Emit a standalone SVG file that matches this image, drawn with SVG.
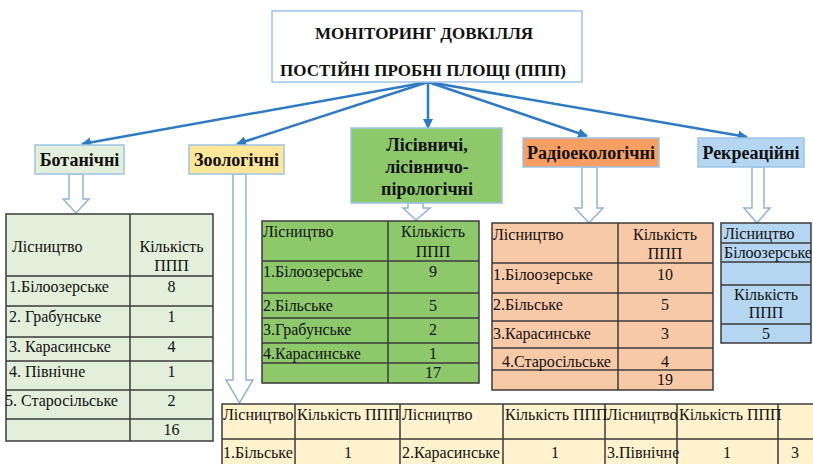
<svg xmlns="http://www.w3.org/2000/svg" width="813" height="464" viewBox="0 0 813 464" font-family="'Liberation Serif', 'Times New Roman', 'DejaVu Serif', serif">
<defs>
<marker id="ah" viewBox="0 0 10 10" refX="9" refY="5" markerWidth="4" markerHeight="4" orient="auto" markerUnits="strokeWidth">
<path d="M0,0 L10,5 L0,10 Z" fill="#2e7bc4"/>
</marker>
<style>
text{fill:#111}
.ttl{font-size:17px;font-weight:bold;text-anchor:middle}
.cat{font-size:18px;font-weight:bold;text-anchor:middle}
.t{font-size:16px}
.c{font-size:16px;text-anchor:middle}
.box{stroke:#9dc3e6;stroke-width:1.5}
.con{stroke:#2e7bc4;stroke-width:2.5;fill:none;marker-end:url(#ah)}
.hol{fill:#fff;stroke:#8fb4dc;stroke-width:1.5;stroke-linejoin:miter}
.grid{stroke:#3b3b3b;stroke-width:1.5;fill:none}
</style>
</defs>
<rect width="813" height="464" fill="#fff"/>

<g id="connectors">
<line class="con" x1="428" y1="82" x2="82" y2="144"/>
<line class="con" x1="428" y1="82" x2="237" y2="144"/>
<line class="con" x1="428" y1="82" x2="428" y2="128"/>
<line class="con" x1="428" y1="82" x2="587" y2="136"/>
<line class="con" x1="428" y1="82" x2="747" y2="137"/>
<path class="hol" d="M69,174 H83 V199 H89 L76,213 L63,199 H69 Z"/>
<path class="hol" d="M233,174 H246 V380 H253 L239.5,403 L226,380 H233 Z"/>
<path class="hol" d="M408,203 H423 V208 H430 L416,220 L403,208 H408 Z"/>
<path class="hol" d="M582,167 H597 V208 H603 L589,223 L575,208 H582 Z"/>
<path class="hol" d="M752,167 H764 V208 H770 L757,223 L744,208 H752 Z"/>
</g>

<g id="title">
<rect class="box" x="272" y="11" width="310" height="71" fill="#fff"/>
<text class="ttl" x="424" y="39">МОНІТОРИНГ ДОВКІЛЛЯ</text>
<text class="ttl" x="423" y="76">ПОСТІЙНІ ПРОБНІ ПЛОЩІ (ППП)</text>
</g>

<g id="cat-botanical">
<rect class="box" x="35" y="145" width="89" height="29" fill="#e2efda"/>
<text class="cat" x="79.5" y="166">Ботанічні</text>
</g>
<g id="cat-zoological">
<rect class="box" x="189" y="145" width="95" height="29" fill="#ffe699"/>
<text class="cat" x="236.5" y="166">Зоологічні</text>
</g>
<g id="cat-forestry">
<rect class="box" x="351" y="128" width="151" height="75" fill="#8dc96b"/>
<text class="cat" x="427" y="151">Лісівничі,</text>
<text class="cat" x="427" y="173">лісівничо-</text>
<text class="cat" x="427" y="195">пірологічні</text>
</g>
<g id="cat-radio">
<rect class="box" x="523" y="138" width="136" height="29" fill="#f79f62"/>
<text class="cat" x="591" y="159">Радіоекологічні</text>
</g>
<g id="cat-recreation">
<rect class="box" x="698" y="138" width="106" height="29" fill="#b4d6f0"/>
<text class="cat" x="751" y="159">Рекреаційні</text>
</g>

<g id="table-botanical">
<rect x="6" y="214" width="207" height="227" fill="#e2efda"/>
<path class="grid" d="M6,214 H213 V441 H6 Z M130,214 V441 M6,276 H213 M6,306 H213 M6,337 H213 M6,361 H213 M6,390 H213 M6,419 H213"/>
<text class="t" x="12" y="252">Лісництво</text>
<text class="c" x="171.5" y="252">Кількість</text>
<text class="c" x="171.5" y="271">ППП</text>
<text class="t" x="9" y="292">1.Білоозерське</text><text class="c" x="171.5" y="292">8</text>
<text class="t" x="9" y="322">2. Грабунське</text><text class="c" x="171.5" y="322">1</text>
<text class="t" x="9" y="352">3. Карасинське</text><text class="c" x="171.5" y="352">4</text>
<text class="t" x="9" y="377">4. Північне</text><text class="c" x="171.5" y="377">1</text>
<text class="t" x="5" y="406">5. Старосільське</text><text class="c" x="171.5" y="406">2</text>
<text class="c" x="171.5" y="435">16</text>
</g>

<g id="table-forestry">
<rect x="262" y="221" width="217" height="162" fill="#8dc96b"/>
<path class="grid" d="M262,221 H479 V383 H262 Z M388,221 V383 M262,261 H479 M262,293 H479 M262,318 H479 M262,343 H479 M262,363 H479"/>
<text class="t" x="263" y="237">Лісництво</text>
<text class="c" x="433" y="237">Кількість</text>
<text class="c" x="433" y="257">ППП</text>
<text class="t" x="263" y="277">1.Білоозерське</text><text class="c" x="433" y="277">9</text>
<text class="t" x="263" y="311">2.Більське</text><text class="c" x="433" y="311">5</text>
<text class="t" x="263" y="335">3.Грабунське</text><text class="c" x="433" y="335">2</text>
<text class="t" x="263" y="359">4.Карасинське</text><text class="c" x="433" y="359">1</text>
<text class="c" x="433" y="378">17</text>
</g>

<g id="table-radio">
<rect x="492" y="223" width="221" height="167" fill="#f8c9a7"/>
<path class="grid" d="M492,223 H713 V390 H492 Z M618,223 V390 M492,263 H713 M492,293 H713 M492,321 H713 M492,348 H713 M492,370 H713"/>
<text class="t" x="493" y="240">Лісництво</text>
<text class="c" x="665" y="240">Кількість</text>
<text class="c" x="665" y="259">ППП</text>
<text class="t" x="493" y="280">1.Білоозерське</text><text class="c" x="665" y="280">10</text>
<text class="t" x="493" y="310">2.Більське</text><text class="c" x="665" y="310">5</text>
<text class="t" x="493" y="339">3.Карасинське</text><text class="c" x="665" y="339">3</text>
<text class="t" x="502" y="367">4.Старосільське</text><text class="c" x="665" y="367">4</text>
<text class="c" x="665" y="385">19</text>
</g>

<g id="table-recreation">
<rect x="721" y="223" width="90" height="120" fill="#b4d6f0"/>
<path class="grid" d="M721,223 H811 V343 H721 Z M721,243 H811 M721,262 H811 M721,285 H811 M721,324 H811"/>
<text class="t" x="724" y="239">Лісництво</text>
<text class="t" x="724" y="258">Білоозерське</text>
<text class="c" x="766" y="300">Кількість</text>
<text class="c" x="766" y="318">ППП</text>
<text class="c" x="766" y="339">5</text>
</g>

<g id="table-zoological">
<rect x="222" y="404" width="595" height="66" fill="#fff2cc"/>
<path class="grid" d="M222,470 V404 H817 M222,439 H817 M295,404 V470 M400,404 V470 M503,404 V470 M605,404 V470 M677,404 V470 M778,404 V470"/>
<text class="t" x="223" y="420">Лісництво</text>
<text class="t" x="297" y="420">Кількість ППП</text>
<text class="t" x="402" y="420">Лісництво</text>
<text class="t" x="505" y="420">Кількість ППП</text>
<text class="t" x="607" y="420">Лісництво</text>
<text class="t" x="679" y="420">Кількість ППП</text>
<text class="t" x="223" y="458">1.Більське</text>
<text class="c" x="348" y="458">1</text>
<text class="t" x="402" y="458">2.Карасинське</text>
<text class="c" x="555" y="458">1</text>
<text class="t" x="607" y="458">3.Північне</text>
<text class="c" x="727" y="458">1</text>
<text class="c" x="795" y="458">3</text>
</g>
</svg>
